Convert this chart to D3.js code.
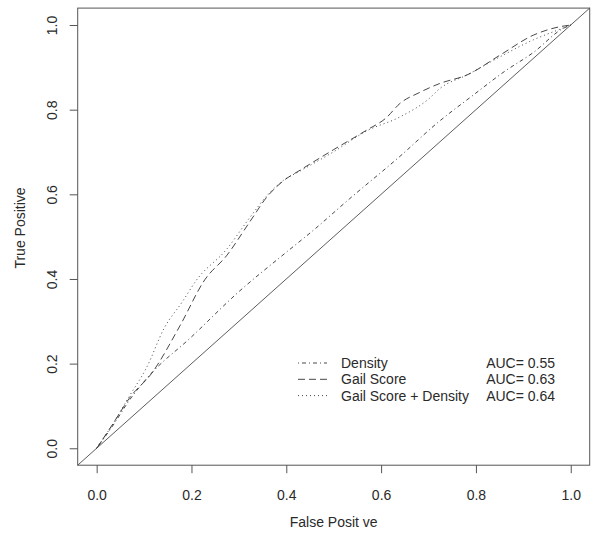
<!DOCTYPE html>
<html>
<head>
<meta charset="utf-8">
<script src="https://cdn.jsdelivr.net/npm/d3@7"></script>
<style>
  body { margin: 0; background: white; }
  text { font-family: "Liberation Sans", Arial, sans-serif; fill: #2a2a2a; }
</style>
</head>
<body>
<script>

// ROC points (false positive rate, true positive rate)
var densityFpr = [0, 0.035, 0.07, 0.112, 0.197, 0.30, 0.401, 0.457, 0.534, 0.64, 0.72, 0.795, 0.86, 0.921, 0.984, 1]
var densityTpr = [0, 0.055, 0.115, 0.173, 0.26, 0.37, 0.464, 0.515, 0.59, 0.69, 0.77, 0.835, 0.89, 0.935, 0.992, 1]

var gailFpr = [0, 0.035, 0.07, 0.116, 0.176, 0.228, 0.274, 0.323, 0.36, 0.394, 0.429, 0.499, 0.57, 0.61, 0.64, 0.68, 0.724, 0.781, 0.851, 0.921, 0.977, 1]
var gailTpr = [0, 0.059, 0.12, 0.177, 0.29, 0.398, 0.455, 0.535, 0.595, 0.632, 0.657, 0.705, 0.752, 0.78, 0.815, 0.84, 0.862, 0.882, 0.929, 0.976, 0.996, 1]

var bothFpr = [0, 0.035, 0.07, 0.105, 0.143, 0.18, 0.211, 0.274, 0.323, 0.36, 0.394, 0.429, 0.499, 0.57, 0.64, 0.70, 0.724, 0.781, 0.851, 0.921, 0.977, 1]
var bothTpr = [0, 0.059, 0.125, 0.19, 0.285, 0.345, 0.398, 0.47, 0.545, 0.598, 0.633, 0.655, 0.70, 0.75, 0.783, 0.825, 0.85, 0.882, 0.925, 0.965, 0.99, 1]

var legendNames = ["Density", "Gail Score", "Gail Score + Density"]
var legendAuc = ["AUC= 0.55", "AUC= 0.63", "AUC= 0.64"]
var ticks = [0, 0.2, 0.4, 0.6, 0.8, 1.0]

var width = 600,
    height = 546;

var svg = d3.select("body").append("svg")
    .attr("width", width)
    .attr("height", height)

// R style axes: 4% padding on both ends
var x = d3.scaleLinear().domain([-0.04, 1.04]).range([77.7, 589.7])
var y = d3.scaleLinear().domain([-0.04, 1.04]).range([465.2, 8.1])

var dashes = ["1,3,4,3", "7,4", "1,3"]

function zipPts(a, b) {
    return a.map(function (d, i) { return [d, b[i]] })
}
var series = [zipPts(densityFpr, densityTpr), zipPts(gailFpr, gailTpr), zipPts(bothFpr, bothTpr)]

var line = d3.line()
    .curve(d3.curveMonotoneX)
    .x(function (d) { return x(d[0]) })
    .y(function (d) { return y(d[1]) })

// chance diagonal runs corner to corner
svg.append("line")
    .attr("x1", x(-0.04)).attr("y1", y(-0.04))
    .attr("x2", x(1.04)).attr("y2", y(1.04))
    .attr("stroke", "#333")
    .attr("stroke-width", 0.8)

svg.selectAll(".roc")
    .data(series)
    .enter().append("path")
    .attr("class", "roc")
    .attr("d", line)
    .attr("fill", "none")
    .attr("stroke", "#333")
    .attr("stroke-width", 0.9)
    .attr("stroke-dasharray", function (d, i) { return dashes[i] })

// box
svg.append("rect")
    .attr("x", x(-0.04)).attr("y", y(1.04))
    .attr("width", x(1.04) - x(-0.04))
    .attr("height", y(-0.04) - y(1.04))
    .attr("fill", "none")
    .attr("stroke", "#555")
    .attr("stroke-width", 1)

// x axis
var xAxis = svg.append("g")
    .attr("transform", "translate(0," + y(-0.04) + ")")
    .call(d3.axisBottom(x).tickValues(ticks).tickSize(8).tickFormat(d3.format(".1f")))
xAxis.select(".domain").remove()
xAxis.selectAll("line").attr("stroke", "#555")
xAxis.selectAll("text")
    .attr("y", 34.5)
    .attr("dy", null)
    .style("font-size", "14px")
    .style("font-family", "Liberation Sans, Arial, sans-serif")
    .attr("fill", "#2a2a2a")

// y axis, labels turned like R's las=0
var yAxis = svg.append("g")
    .attr("transform", "translate(" + x(-0.04) + ",0)")
    .call(d3.axisLeft(y).tickValues(ticks).tickSize(8).tickFormat(d3.format(".1f")))
yAxis.select(".domain").remove()
yAxis.selectAll("line").attr("stroke", "#555")
yAxis.selectAll("text")
    .attr("x", null).attr("dy", null)
    .attr("transform", "translate(-20.7,0) rotate(-90)")
    .attr("text-anchor", "middle")
    .style("font-size", "14px")
    .style("font-family", "Liberation Sans, Arial, sans-serif")
    .attr("fill", "#2a2a2a")

svg.append("text")
    .attr("x", (x(-0.04) + x(1.04)) / 2)
    .attr("y", 527)
    .attr("text-anchor", "middle")
    .style("font-size", "14px")
    .text("False Posit ve")

svg.append("text")
    .attr("transform", "translate(25,228) rotate(-90)")
    .attr("text-anchor", "middle")
    .style("font-size", "14px")
    .text("True Positive")

// legend
var legend = svg.selectAll(".leg")
    .data(legendNames)
    .enter().append("g")
    .attr("class", "leg")
    .attr("transform", function (d, i) { return "translate(0," + (363 + i * 16.3) + ")" })

legend.append("line")
    .attr("x1", 298).attr("x2", 327)
    .attr("stroke", "#333")
    .attr("stroke-width", 0.9)
    .attr("stroke-dasharray", function (d, i) { return dashes[i] })

legend.append("text")
    .attr("x", 341)
    .attr("dy", "0.35em")
    .style("font-size", "14px")
    .text(function (d) { return d })

legend.append("text")
    .attr("x", 555)
    .attr("dy", "0.35em")
    .attr("text-anchor", "end")
    .style("font-size", "14px")
    .text(function (d, i) { return legendAuc[i] })

</script>
</body>
</html>
